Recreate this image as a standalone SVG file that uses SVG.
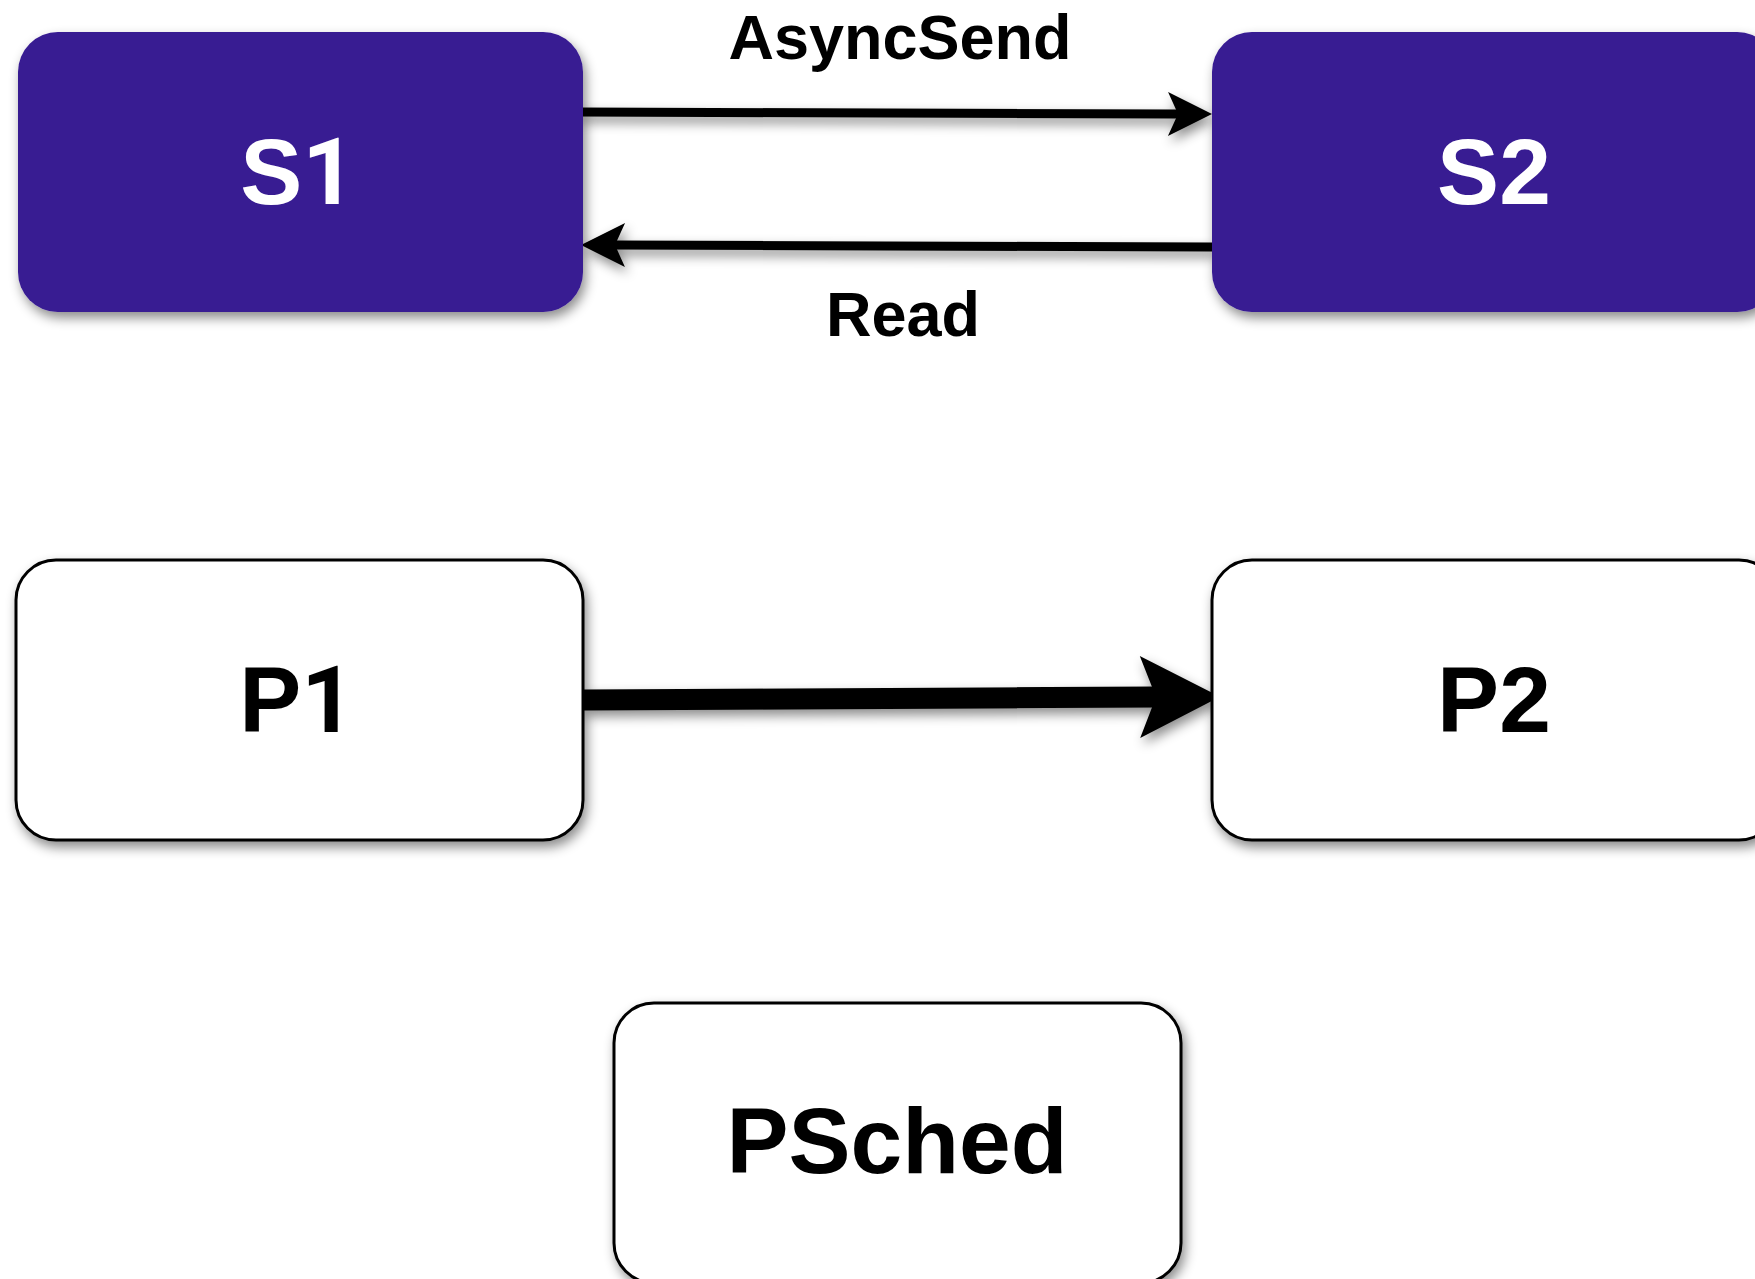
<svg xmlns="http://www.w3.org/2000/svg" width="1755" height="1279" viewBox="0 0 1755 1279">
  <style>
    .lbl { font-family: "Liberation Sans", Arial, Helvetica, sans-serif; font-weight: bold; text-anchor: middle; }
    .digit { font-family: Roboto, "Liberation Sans", sans-serif; font-weight: bold; }
    .big { font-size: 93px; }
    .edge-lbl { font-size: 63px; fill: #000; }
    .store { fill: #371A92; }
    .store-text { fill: #ffffff; }
    .proc { fill: #ffffff; stroke: #000; stroke-width: 3; }
    .proc-text { fill: #000; }
    .wire { fill: none; stroke: #000; stroke-width: 9; }
    .wire-thick { fill: none; stroke: #000; stroke-width: 21; }
  </style>
  <defs>
    <filter id="shadow" x="-20%" y="-30%" width="140%" height="170%">
      <feDropShadow dx="3" dy="6" stdDeviation="6" flood-color="#000" flood-opacity="0.45"/>
    </filter>
    <!-- classic notched arrowhead, reference point at the notch -->
    <marker id="head" markerUnits="userSpaceOnUse" markerWidth="44" markerHeight="44" refX="10" refY="22" orient="auto" overflow="visible">
      <path d="M44,22 L0,0 L10,22 L0,44 Z" fill="#000"/>
    </marker>
    <marker id="head-big" markerUnits="userSpaceOnUse" markerWidth="80" markerHeight="82" refX="16" refY="41" orient="auto" overflow="visible">
      <path d="M80,41 L0,0 L16,41 L0,82 Z" fill="#000"/>
    </marker>
  </defs>

  <rect width="1755" height="1279" fill="#ffffff"/>

  <g id="connectors" filter="url(#shadow)">
    <path id="edge-asyncsend" class="wire" d="M579,112 L1178,114" marker-end="url(#head)"/>
    <path id="edge-read" class="wire" d="M1212,247 L615,245" marker-end="url(#head)"/>
    <path id="edge-p1-p2" class="wire-thick" d="M583,700 L1156,697" marker-end="url(#head-big)"/>
  </g>

  <g id="S1" filter="url(#shadow)">
    <rect class="store" x="18" y="32" width="565" height="280" rx="40" ry="40"/>
    <text class="lbl big store-text" x="298" y="204">S<tspan class="digit">1</tspan></text>
  </g>

  <g id="S2" filter="url(#shadow)">
    <rect class="store" x="1212" y="32" width="565" height="280" rx="40" ry="40"/>
    <text class="lbl big store-text" x="1494" y="204">S2</text>
  </g>

  <g id="P1" filter="url(#shadow)">
    <rect class="proc" x="16" y="560" width="567" height="280" rx="40" ry="40"/>
    <text class="lbl big proc-text" x="297" y="732">P<tspan class="digit">1</tspan></text>
  </g>

  <g id="P2" filter="url(#shadow)">
    <rect class="proc" x="1212" y="560" width="567" height="280" rx="40" ry="40"/>
    <text class="lbl big proc-text" x="1494" y="732">P2</text>
  </g>

  <g id="PSched" filter="url(#shadow)">
    <rect class="proc" x="614" y="1003" width="567" height="280" rx="40" ry="40"/>
    <text class="lbl big proc-text" x="897" y="1173">PSched</text>
  </g>

  <g id="edge-labels">
    <text class="lbl edge-lbl" x="900" y="59">AsyncSend</text>
    <text class="lbl edge-lbl" x="903" y="336">Read</text>
  </g>
</svg>
